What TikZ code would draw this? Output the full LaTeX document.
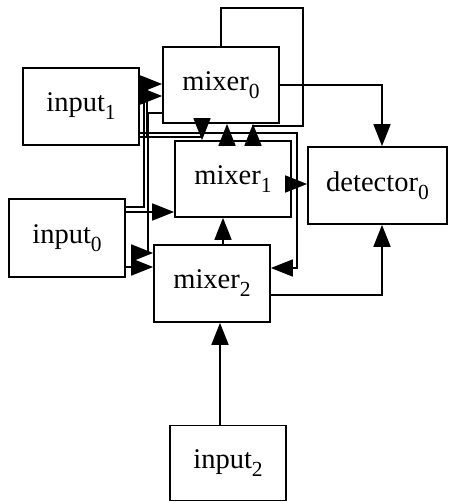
\documentclass[tikz,border=0pt]{standalone}
\usepackage{fontspec}
\setmainfont{Liberation Serif}
\usetikzlibrary{arrows.meta}
% lowered index digit for the block names
\newcommand{\lowidx}[1]{\raisebox{-8pt}{\fontsize{21.5}{22}\selectfont #1}}
\begin{document}
\begin{tikzpicture}[x=1pt,y=-1pt,
  blk/.style={draw, line width=1.7pt, rectangle, inner sep=0pt,
    minimum width=116pt, minimum height=76pt,
    font=\fontsize{28.5}{30}\selectfont},
  wire/.style={line width=1.7pt, -{Triangle[length=22pt,width=17pt]}},
]
\useasboundingbox (0,0) rectangle (448,502);

% blocks
\node[blk] (mixer0) at (221,85) {mixer\lowidx{0}};
\node[blk, minimum height=77pt] (input1) at (81,106.5) {input\lowidx{1}};
\node[blk] (mixer1) at (233,179) {mixer\lowidx{1}};
\node[blk, minimum width=139pt, minimum height=77pt] (detector0) at (377.5,185.5) {detector\lowidx{0}};
\node[blk, minimum height=78pt] (input0) at (67,238) {input\lowidx{0}};
\node[blk, minimum height=77pt] (mixer2) at (212,283.5) {mixer\lowidx{2}};
\node[blk, minimum height=75pt] (input2) at (228,463) {input\lowidx{2}};

% feedback loop of mixer 0
\draw[wire] (mixer0.north) -- ++(0,-38) -- ++(82,0) -- ++(0,118) -- ++(-50,0)
  -- ([xshift=32pt]mixer0.south);

% outputs to the detector
\draw[wire] (mixer0.east) -| ([xshift=4.5pt]detector0.north);
\draw[wire] ([yshift=-11.5pt]mixer2.east) -| ([xshift=4.5pt]detector0.south);
\draw[wire] ([yshift=-5pt]mixer1.east) -- ([yshift=-5pt]mixer1.east -| detector0.west);

% chain between the mixers
\draw[wire] ([xshift=-8pt]input2.north) -- ([xshift=-8pt]input2.north |- mixer2.south);
\draw[wire] ([xshift=11pt]mixer2.north) -- ([xshift=11pt]mixer2.north |- mixer1.south);
\draw[wire] ([xshift=-6pt]mixer1.north) -- ([xshift=-6pt]mixer1.north |- mixer0.south);
\draw[wire] ([yshift=-28pt]mixer0.west) -- ++(-14,0) |- ([yshift=30.5pt]mixer2.west);

% input 1
\draw[wire] ([yshift=-26.5pt]input1.east) -- ++(157,0) |- ([yshift=15.5pt]mixer2.east);
\draw[wire] ([yshift=-30.5pt]input1.east) -| ([xshift=-31pt]mixer1.north);
\draw[wire] ([yshift=-30.5pt]input1.east) -- ++(7,0) |- ([yshift=1pt]mixer0.west);

% input 0
\draw[wire] ([yshift=26pt]input0.east) -- ([yshift=26pt]input0.east -| mixer1.west);
\draw[wire] ([yshift=-29pt]input0.east) -- ([yshift=-29pt]input0.east -| mixer2.west);
\draw[wire] ([yshift=31pt]input0.east) -- ++(18,0) |- ([yshift=-11pt]mixer0.west);
\end{tikzpicture}
\end{document}
